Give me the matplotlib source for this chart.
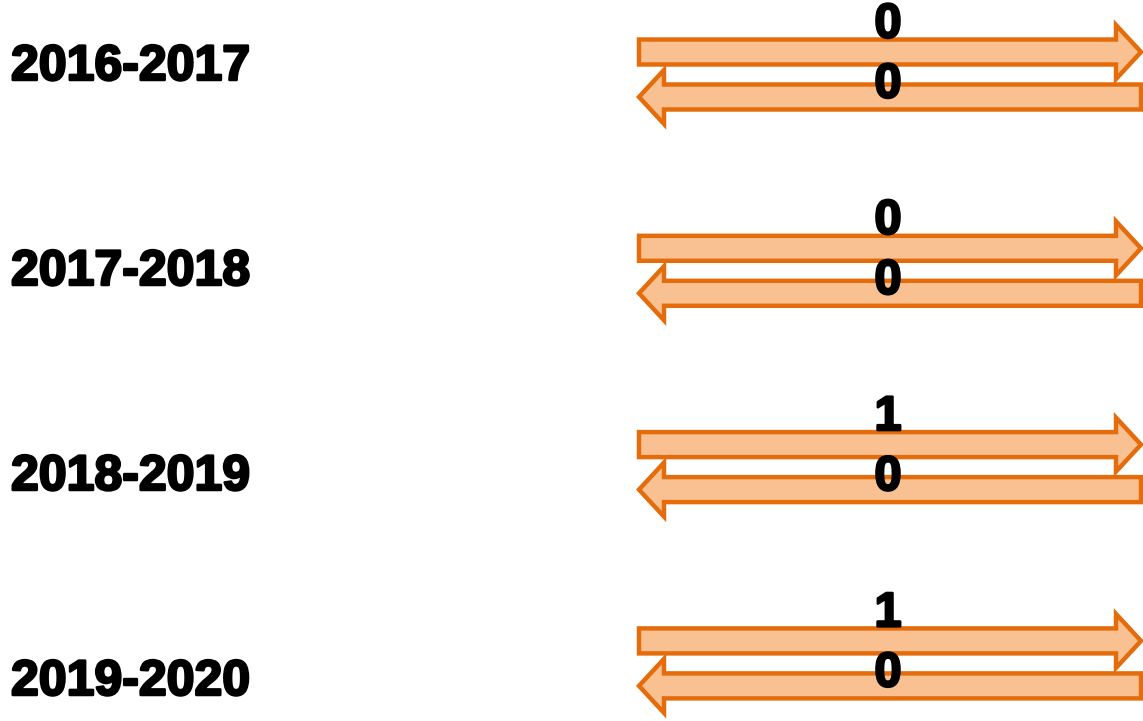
import matplotlib
matplotlib.use("Agg")
import matplotlib.pyplot as plt
from matplotlib.patches import FancyArrow
import matplotlib.patheffects as pe

periods = ["2016-2017", "2017-2018", "2018-2019", "2019-2020"]
forward_values = [0, 0, 1, 1]
backward_values = [0, 0, 0, 0]

W, H = 1143, 721
fig = plt.figure(figsize=(W / 100, H / 100), dpi=100)
ax = fig.add_axes([0, 0, 1, 1])
ax.set_xlim(0, W)
ax.set_ylim(H, 0)
ax.axis("off")

fill = "#F9C192"
edge = "#E46C0A"
font = "Liberation Sans"
heavy = [pe.withStroke(linewidth=1.8, foreground="black")]

pitch_arrow = 196.3
pitch_label = 205.0
x_left, x_right = 639, 1141
body_w = 25
head_w = 54
head_l = 25

for i, (p, fv, bv) in enumerate(zip(periods, forward_values, backward_values)):
    yf = 52 + i * pitch_arrow
    yb = 97 + i * pitch_arrow
    ax.add_patch(FancyArrow(x_left, yf, x_right - x_left, 0, width=body_w,
                            head_width=head_w, head_length=head_l,
                            length_includes_head=True, facecolor=fill,
                            edgecolor=edge, linewidth=3.2, zorder=2))
    ax.add_patch(FancyArrow(x_right, yb, -(x_right - x_left), 0, width=body_w,
                            head_width=head_w, head_length=head_l,
                            length_includes_head=True, facecolor=fill,
                            edgecolor=edge, linewidth=3.2, zorder=2))
    ax.text(888, yf - 27, str(fv), ha="center", va="center", fontsize=35,
            fontweight="bold", family=font, color="black", zorder=3,
            path_effects=heavy)
    ax.text(888, yb - 12, str(bv), ha="center", va="center", fontsize=35,
            fontweight="bold", family=font, color="black", zorder=3,
            path_effects=heavy)
    ax.text(11, 67 + i * pitch_label, p, ha="left", va="center", fontsize=36,
            fontweight="bold", family=font, color="black", zorder=3,
            path_effects=heavy)

fig.savefig("out.png", dpi=100)
